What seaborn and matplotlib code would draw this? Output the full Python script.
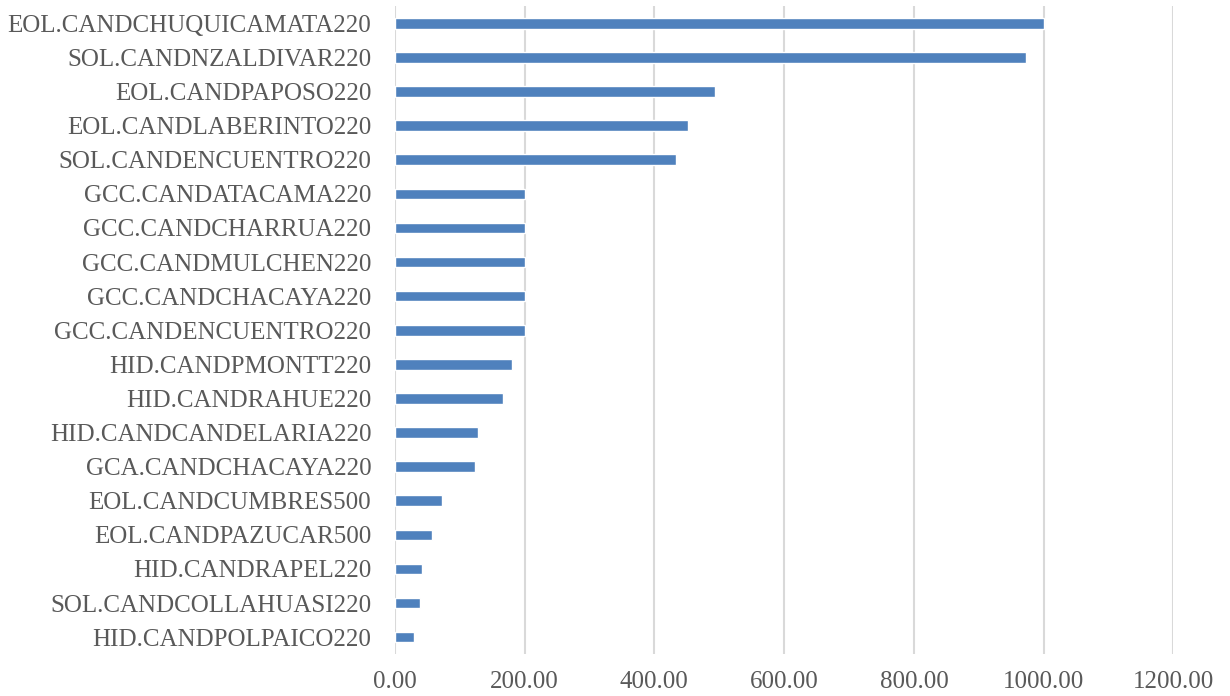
import matplotlib.pyplot as plt
import seaborn as sns
import pandas as pd
from matplotlib.ticker import FormatStrFormatter

# Data
candidates = ['EOL.CANDCHUQUICAMATA220', 'SOL.CANDNZALDIVAR220', 'EOL.CANDPAPOSO220',
              'EOL.CANDLABERINTO220', 'SOL.CANDENCUENTRO220', 'GCC.CANDATACAMA220',
              'GCC.CANDCHARRUA220', 'GCC.CANDMULCHEN220', 'GCC.CANDCHACAYA220',
              'GCC.CANDENCUENTRO220', 'HID.CANDPMONTT220', 'HID.CANDRAHUE220',
              'HID.CANDCANDELARIA220', 'GCA.CANDCHACAYA220', 'EOL.CANDCUMBRES500',
              'EOL.CANDPAZUCAR500', 'HID.CANDRAPEL220', 'SOL.CANDCOLLAHUASI220',
              'HID.CANDPOLPAICO220']
values = [1000, 973, 494, 452, 434, 200, 200, 200, 200, 200,
          181, 167, 128, 124, 72, 57, 42, 39, 29]
x_ticks = [0, 200, 400, 600, 800, 1000, 1200]

df = pd.DataFrame({'candidate': candidates, 'value': values})

sns.set_style('white')
plt.rcParams['font.family'] = ['Liberation Serif', 'DejaVu Serif']

fig = plt.figure(figsize=(12.3, 6.96), dpi=100)
ax = fig.add_axes([0.321, 0.060, 0.633, 0.931])

sns.barplot(data=df, x='value', y='candidate', color='#4F81BD', saturation=1,
            width=0.31, ax=ax)

ax.set_xlim(0, 1200)
ax.set_xticks(x_ticks)
ax.xaxis.set_major_formatter(FormatStrFormatter('%.2f'))
ax.grid(axis='x', color='#D9D9D9', linewidth=1.5)
ax.set_axisbelow(True)
for s in ax.spines.values():
    s.set_visible(False)
ax.set_xlabel('')
ax.set_ylabel('')
ax.tick_params(axis='both', length=0, colors='#595959', labelsize=18)
ax.tick_params(axis='x', pad=12)
ax.tick_params(axis='y', pad=17)

fig.savefig('out.png', dpi=100)
